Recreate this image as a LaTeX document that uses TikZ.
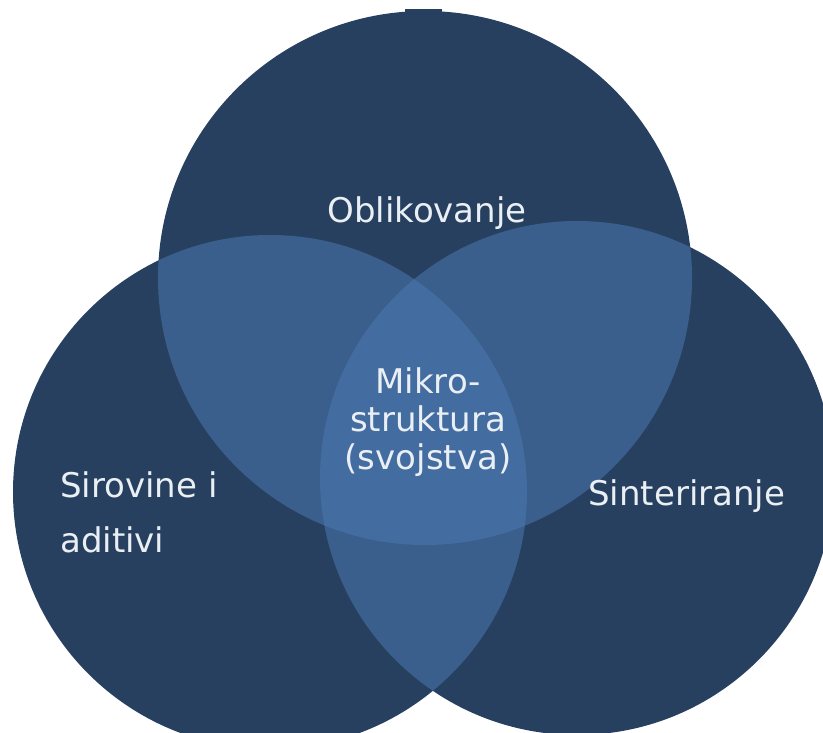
\documentclass[tikz,border=0pt]{standalone}
\usepackage{fontspec}
\setmainfont{DejaVu Sans}
\definecolor{venndark}{RGB}{39,64,96}
\definecolor{vennmid}{RGB}{59,95,140}
\definecolor{vennlight}{RGB}{67,108,161}
\definecolor{venntext}{RGB}{234,239,244}

\begin{document}
\begin{tikzpicture}
  [x=1pt,y=-1pt,every node/.style={text=venntext,inner sep=0pt,font=\fontsize{34}{38}\selectfont}]
  \useasboundingbox (0,0) rectangle (823,733);
  \coordinate (oblik) at (425,278);
  \coordinate (sirov) at (270,492);
  \coordinate (sinter) at (577,478);

  \fill[venndark] (405,9) rectangle (442,16);
  \fill[venndark] (oblik) circle[radius=267] (sirov) circle[radius=257] (sinter) circle[radius=257];
  \begin{scope}
    \clip (oblik) circle[radius=267];
    \fill[vennmid] (sirov) circle[radius=257] (sinter) circle[radius=257];
  \end{scope}
  \begin{scope}
    \clip (sirov) circle[radius=257];
    \fill[vennmid] (sinter) circle[radius=257];
  \end{scope}
  \begin{scope}
    \clip (oblik) circle[radius=267];
    \clip (sirov) circle[radius=257];
    \fill[vennlight] (sinter) circle[radius=257];
  \end{scope}

  \node[anchor=base] (oblikovanje) at (427,223) {Oblikovanje};
  \node[align=center] (mikro) at (428,422) {Mikro-\\struktura\\(svojstva)};
  \node[anchor=west,align=left,font=\fontsize{34}{55}\selectfont] (sirovine) at (60,512) {Sirovine i\\aditivi};
  \node[anchor=base west] (sinteriranje) at (588,505) {Sinteriranje};
\end{tikzpicture}
\end{document}
